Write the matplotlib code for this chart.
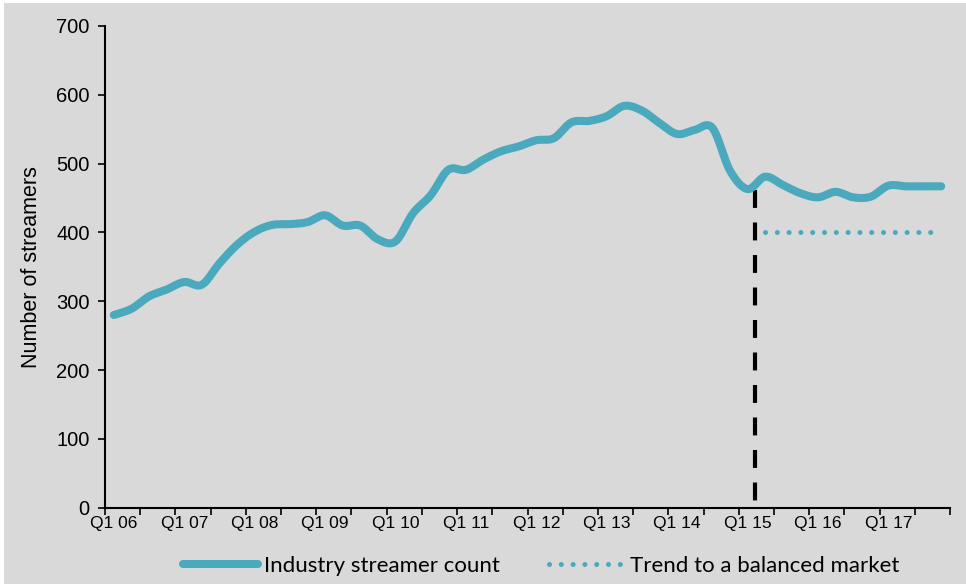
import numpy as np
import matplotlib.pyplot as plt
from matplotlib.patches import Rectangle

# quarterly industry streamer count, Q1 06 .. Q4 17
quarters = [f"Q{q} {y:02d}" for y in range(6, 18) for q in range(1, 5)]
streamers = [280, 289, 307, 317, 328, 324, 355, 382, 401, 411, 412, 415,
             425, 410, 410, 390, 387, 428, 454, 491, 491, 506, 518, 525,
             534, 537, 560, 562, 569, 584, 577, 559, 543, 549, 552, 490,
             463, 481, 469, 457, 451, 459, 451, 452, 468, 467, 467, 467]

# balanced market trend and the divider between history and forecast
trend_x = [37, 46.5]
trend_y = [400, 400]
divider_x = 36.43
divider_y = [461, 0]

tick_labels = [q if q.startswith("Q1") else "" for q in quarters]

LINE = '#4BA9BD'
BG = '#D9D9D9'


def smooth(x, y, n=20):
    """Catmull-Rom style smoothing, like Excel's smoothed line."""
    x = np.asarray(x, float)
    y = np.asarray(y, float)
    px = np.concatenate([[x[0]], x, [x[-1]]])
    py = np.concatenate([[y[0]], y, [y[-1]]])
    xs, ys = [], []
    t = np.linspace(0, 1, n, endpoint=False)
    for i in range(1, len(px) - 2):
        p0, p1, p2, p3 = py[i-1], py[i], py[i+1], py[i+2]
        q0, q1, q2, q3 = px[i-1], px[i], px[i+1], px[i+2]
        m1 = (p2 - p0) / 6.0
        m2 = (p3 - p1) / 6.0
        k1 = (q2 - q0) / 6.0
        k2 = (q3 - q1) / 6.0
        # cubic bezier with control points from neighbours
        b0, b1, b2, b3 = p1, p1 + m1, p2 - m2, p2
        c0, c1, c2, c3 = q1, q1 + k1, q2 - k2, q2
        u = 1 - t
        ys.append(u**3*b0 + 3*u**2*t*b1 + 3*u*t**2*b2 + t**3*b3)
        xs.append(u**3*c0 + 3*u**2*t*c1 + 3*u*t**2*c2 + t**3*c3)
    xs.append([x[-1]])
    ys.append([y[-1]])
    return np.concatenate(xs), np.concatenate(ys)


plt.rcParams['font.family'] = ['Liberation Sans', 'DejaVu Sans']

fig = plt.figure(figsize=(9.66, 5.84), dpi=100)
fig.patch.set_facecolor('white')
fig.patches.append(Rectangle((4/966, 0), 1, 1 - 3/584, transform=fig.transFigure,
                             facecolor=BG, edgecolor='none', zorder=-10))

ax = fig.add_axes([105/966, 1 - 507.7/584, 845/966, (507.7 - 26)/584])
ax.set_facecolor(BG)

idx = np.arange(len(quarters))
sx, sy = smooth(idx, streamers)
ax.plot(sx, sy, color=LINE, lw=5.8, solid_capstyle='round',
        solid_joinstyle='round', label='Industry streamer count', zorder=3)
ax.plot(trend_x, trend_y, color=LINE, lw=3.6, linestyle=(0, (0.01, 2.35)),
        dash_capstyle='round', label='Trend to a balanced market', zorder=3)
ax.plot([divider_x, divider_x], divider_y, color='black', lw=3,
        linestyle=(0, (4.3, 3.5)), zorder=2)

ax.set_xlim(-0.5, len(quarters) - 0.5)
ax.set_ylim(0, 700)
ax.set_yticks(range(0, 701, 100))
ax.set_xticks(idx)
ax.set_xticklabels(tick_labels, fontsize=12.5)
ax.set_xticks(np.arange(-0.5, len(quarters), 2), minor=True)
ax.tick_params(axis='x', which='major', length=0, pad=6)
ax.tick_params(axis='x', which='minor', length=5, width=1.2, direction='out')
ax.tick_params(axis='y', labelsize=14.5, length=5, width=1.2, pad=6)
for s in ['top', 'right']:
    ax.spines[s].set_visible(False)
for s in ['left', 'bottom']:
    ax.spines[s].set_linewidth(1.5)
ax.set_ylabel('Number of streamers', fontsize=15.5, labelpad=10)

fig.legend(loc='center', bbox_to_anchor=(541/966, 1 - 566/584), ncol=2,
           frameon=False, handlelength=3.4, handletextpad=0.25,
           columnspacing=2.2, prop={'family': 'Lato', 'size': 16})

fig.savefig('out.png', dpi=100, facecolor=fig.get_facecolor())
